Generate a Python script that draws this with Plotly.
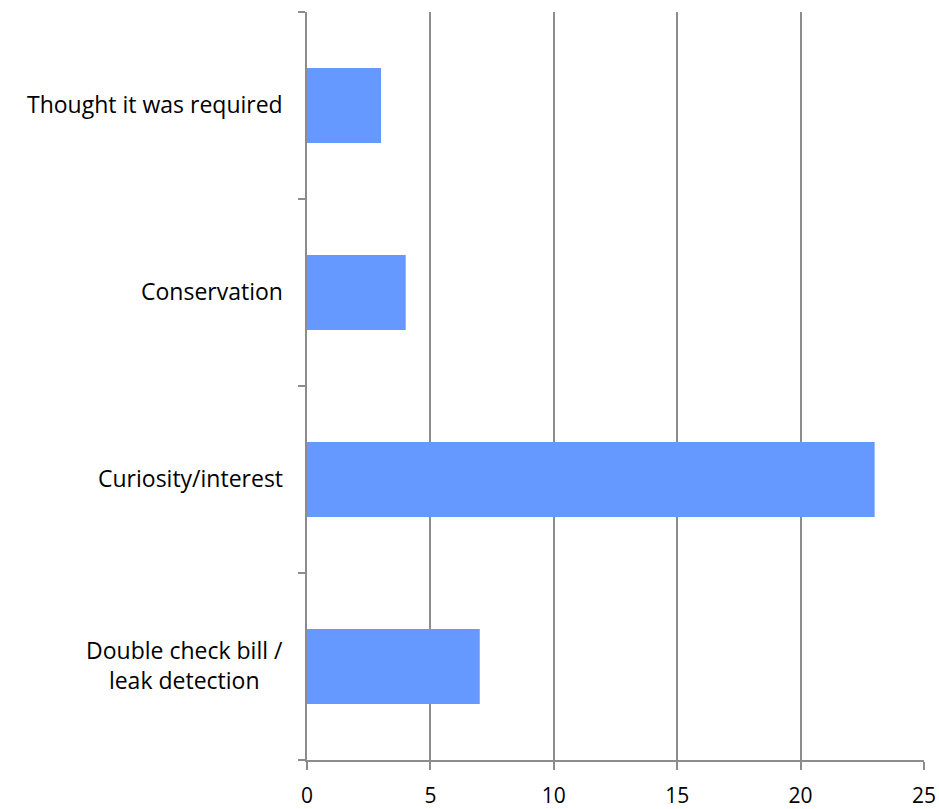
import plotly.graph_objects as go

# Survey responses: reasons for checking the meter
categories = [
    "Double check bill /<br>leak detection",
    "Curiosity/interest",
    "Conservation",
    "Thought it was required",
]
counts = [7, 23, 4, 3]
x_ticks = [0, 5, 10, 15, 20, 25]

axis_grey = "#8c8c8c"
font_family = "Open Sans, sans-serif"
label_size = 23

fig = go.Figure(
    go.Bar(
        x=counts,
        y=categories,
        orientation="h",
        marker=dict(color="#6699FF", line=dict(width=0)),
        width=0.4,
    )
)

fig.update_layout(
    width=939,
    height=809,
    margin=dict(l=307, r=15, t=12, b=49),
    plot_bgcolor="white",
    paper_bgcolor="white",
    showlegend=False,
    font=dict(family=font_family, size=label_size, color="#000000"),
)

fig.update_xaxes(
    range=[0, 25],
    tickvals=x_ticks,
    ticktext=[str(v) for v in x_ticks],
    tickfont=dict(size=21),
    automargin=False,
    showgrid=True,
    gridcolor=axis_grey,
    gridwidth=1.5,
    zeroline=False,
    showline=True,
    linecolor=axis_grey,
    linewidth=1.5,
    ticks="outside",
    ticklen=8,
    tickcolor=axis_grey,
    tickwidth=1.5,
    ticklabelstandoff=8,
)

fig.update_yaxes(
    categoryorder="array",
    categoryarray=categories,
    automargin=False,
    showticklabels=False,
    showgrid=False,
    zeroline=False,
    showline=True,
    linecolor=axis_grey,
    linewidth=1.5,
    ticks="outside",
    tickson="boundaries",
    ticklen=7,
    tickcolor=axis_grey,
    tickwidth=1.5,
)

# Category labels, centred line by line like the original chart
for cat in categories:
    fig.add_annotation(
        x=0,
        xref="paper",
        y=cat,
        yref="y",
        text=cat,
        showarrow=False,
        xanchor="right",
        yanchor="middle",
        align="center",
        xshift=-22,
        yshift=2,
        font=dict(family=font_family, size=label_size, color="#000000"),
    )

fig.write_html("out.html")
